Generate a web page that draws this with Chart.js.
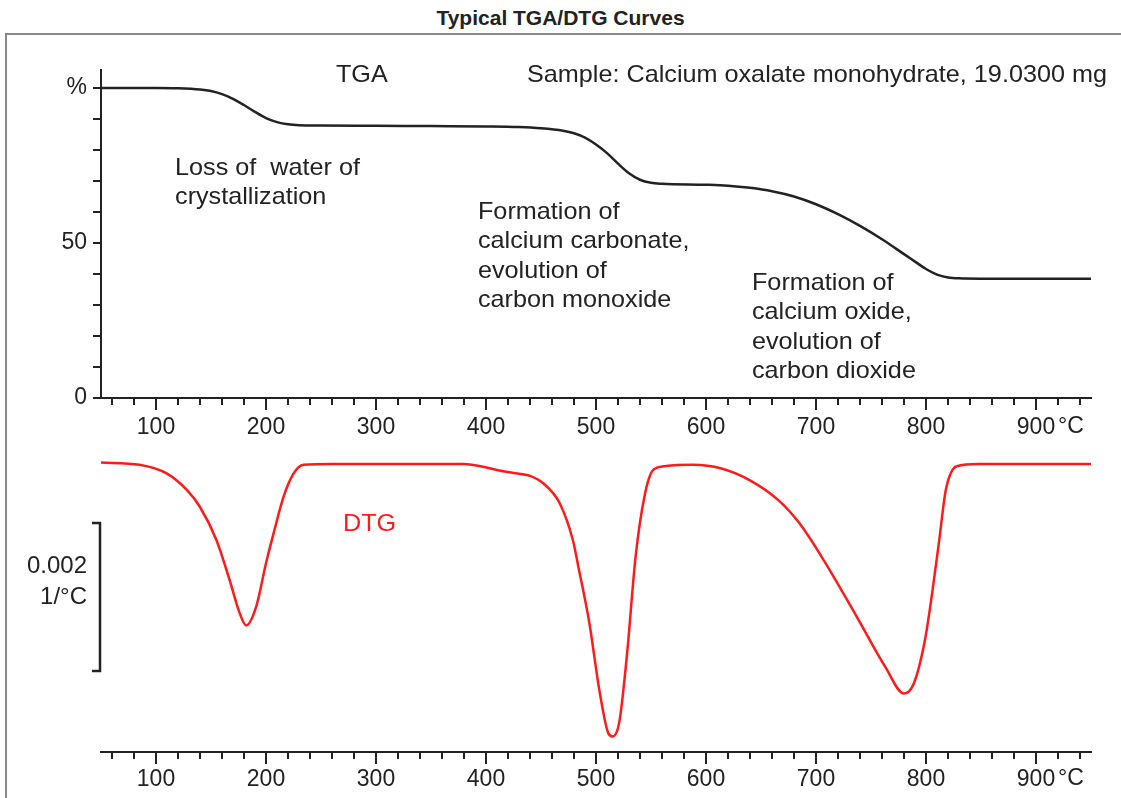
<!DOCTYPE html>
<html>
<head>
<meta charset="utf-8">
<title>Typical TGA/DTG Curves</title>
<script src="https://cdn.jsdelivr.net/npm/chart.js@4.4.1/dist/chart.umd.min.js"></script>
<style>
  html, body { margin: 0; overflow: hidden; }
  body { background: #fff; width: 1121px; height: 798px; position: relative;
         font-family: "Liberation Sans", Arial, sans-serif; }
  #title { position: absolute; top: 6px; left: 0; width: 1121px; text-align: center;
           font-size: 21px; font-weight: bold; color: #222; }
  #frame { position: absolute; left: 5px; top: 33px; width: 1114px; height: 763px;
           border-top: 2px solid #8a8a8a; border-left: 2px solid #8a8a8a; }
  #tga { position: absolute; left: 0; top: 0; }
  #dtg { position: absolute; left: 0; top: 440px; }
</style>
</head>
<body>
<div id="title">Typical TGA/DTG Curves</div>
<div id="frame"></div>
<canvas id="tga" width="1121" height="440"></canvas>
<canvas id="dtg" width="1121" height="358"></canvas>
<script>
// TGA curve, mass in % vs temperature in °C
const tgaTemps = [50, 80, 100, 120, 140, 150, 160, 170, 180, 190, 200, 210, 220, 230, 250, 300, 350, 400,
                  430, 450, 470, 480, 490, 500, 510, 520, 530, 540, 550, 560, 600, 620, 640, 660, 680,
                  700, 720, 740, 760, 780, 790, 800, 810, 820, 830, 850, 900, 950];
const tgaMass = [100, 100, 100, 99.9, 99.5, 99, 98, 96.5, 94.5, 92.3, 90.3, 89, 88.3, 88.0, 87.9, 87.8, 87.7, 87.6,
                 87.4, 87.0, 86.2, 85.4, 84, 81.8, 79, 75.6, 72.5, 70.4, 69.4, 69.1, 68.8, 68.5, 67.8, 66.7, 65,
                 62.5, 59.3, 55.5, 51.2, 46.4, 44, 41.6, 39.8, 38.9, 38.6, 38.5, 38.5, 38.5];

// DTG curve, 1/°C vs temperature in °C
const dtgTemps = [50, 85, 110, 128, 140, 155, 167, 176, 182, 191, 200, 207, 216, 225, 234, 260, 380,
                  395, 410, 425, 440, 452, 467, 479, 484, 494, 503, 511, 515, 521, 528, 536, 544, 552, 562, 588,
                  614, 640, 666, 685, 705, 737, 763, 780, 789, 799, 806, 812, 818, 828, 848, 950];
const dtgRate = [0.00002, -0.00001, -0.00013, -0.00035, -0.00058, -0.00103, -0.00157, -0.00201, -0.00218,
                 -0.00193, -0.00134, -0.00093, -0.00044, -0.00013, -0.00001, 0, 0,
                 -0.00003, -0.00008, -0.00012, -0.00016, -0.00026, -0.00053, -0.00103, -0.00139, -0.00215,
                 -0.00305, -0.00363, -0.00368, -0.0035, -0.0026, -0.00125, -0.00044, -0.00008, -0.00003, -0.00001,
                 -0.00006, -0.00022, -0.00049, -0.0008, -0.00125, -0.00206, -0.00274, -0.0031, -0.00296,
                 -0.00238, -0.0017, -0.00103, -0.00035, -0.00003, 0, 0];

// axes
const tempTicks = [];
for (let t = 60; t <= 940; t += 20) tempTicks.push(t);
const massTicks = [0, 10, 20, 30, 40, 50, 60, 70, 80, 90, 100];
const massLabelValues = [0, 50, 100];
const massLabels = ['0', '50', '%'];
const scaleBarTop = -0.0008;
const scaleBarSize = 0.002;
const scaleBarLabels = ['0.002', '1/°C'];

const tgaNotes = [
    { t: 263.6, v: 104.2, lines: ['TGA'] },
    { t: 437.3, v: 104.2, lines: ['Sample: Calcium oxalate monohydrate, 19.0300 mg'] },
    { t: 117.3, v: 74.2, lines: ['Loss of  water of', 'crystallization'] },
    { t: 392.7, v: 60.0, lines: ['Formation of', 'calcium carbonate,', 'evolution of', 'carbon monoxide'] },
    { t: 641.8, v: 37.1, lines: ['Formation of', 'calcium oxide,', 'evolution of', 'carbon dioxide'] }
];
const dtgNotes = [
    { t: 270, v: -0.00082, lines: ['DTG'], color: '#ff1a1a' }
];

const INK = '#222';
const FONT = '"Liberation Sans", Arial, sans-serif';
Chart.defaults.font.family = FONT;
Chart.defaults.color = INK;

function points(xs, ys) {
    return xs.map((x, i) => ({ x: x, y: ys[i] }));
}

// tick marks drawn by hand: long at every 100 °C, short every 20 °C
const tickMarks = {
    id: 'tickMarks',
    afterDraw(chart) {
        const ctx = chart.ctx;
        const xs = chart.scales.x, ys = chart.scales.y;
        ctx.save();
        ctx.strokeStyle = INK;
        ctx.lineWidth = 2;
        ctx.beginPath();
        xs.ticks.forEach(tk => {
            const px = Math.round(xs.getPixelForValue(tk.value));
            const len = tk.value % 100 === 0 ? 12 : 7;
            ctx.moveTo(px, xs.top);
            ctx.lineTo(px, xs.top + len);
        });
        if (ys.options.display) {
            ys.ticks.forEach(tk => {
                const py = Math.round(ys.getPixelForValue(tk.value));
                ctx.moveTo(ys.right - 8, py);
                ctx.lineTo(ys.right, py);
            });
        }
        ctx.stroke();
        // unit after the 900 label
        ctx.fillStyle = INK;
        ctx.font = '23px ' + FONT;
        ctx.textAlign = 'left';
        ctx.textBaseline = 'middle';
        ctx.fillText('°C', xs.getPixelForValue(920), xs.top + chart.options.unitOffset);
        ctx.restore();
    }
};

// text notes, a little wider than the plain font like the original
const notes = {
    id: 'notes',
    afterDatasetsDraw(chart, args, opts) {
        const ctx = chart.ctx;
        const xs = chart.scales.x, ys = chart.scales.y;
        ctx.save();
        ctx.font = '24px ' + FONT;
        ctx.textAlign = 'left';
        ctx.textBaseline = 'middle';
        opts.items.forEach(n => {
            ctx.fillStyle = n.color || INK;
            const x = xs.getPixelForValue(n.t);
            const y = ys.getPixelForValue(n.v);
            n.lines.forEach((line, i) => {
                ctx.save();
                ctx.translate(x, y + i * 29.5);
                ctx.scale(1.05, 1);
                ctx.fillText(line, 0, 0);
                ctx.restore();
            });
        });
        ctx.restore();
    }
};

// bracket showing 0.002 1/°C on the DTG plot
const scaleBar = {
    id: 'scaleBar',
    afterDraw(chart) {
        const ctx = chart.ctx;
        const ys = chart.scales.y;
        const x = chart.chartArea.left - 1;
        const y1 = Math.round(ys.getPixelForValue(scaleBarTop));
        const y2 = Math.round(ys.getPixelForValue(scaleBarTop - scaleBarSize));
        ctx.save();
        ctx.strokeStyle = INK;
        ctx.lineWidth = 2.5;
        ctx.beginPath();
        ctx.moveTo(x - 8, y1);
        ctx.lineTo(x, y1);
        ctx.lineTo(x, y2);
        ctx.lineTo(x - 8, y2);
        ctx.stroke();
        ctx.fillStyle = INK;
        ctx.font = '24px ' + FONT;
        ctx.textAlign = 'right';
        ctx.textBaseline = 'middle';
        const mid = (y1 + y2) / 2;
        ctx.fillText(scaleBarLabels[0], x - 13, mid - 31);
        ctx.fillText(scaleBarLabels[1], x - 13, mid);
        ctx.restore();
    }
};

function tempAxis(height, pad) {
    return {
        type: 'linear',
        min: 50,
        max: 950,
        afterBuildTicks: scale => { scale.ticks = tempTicks.map(v => ({ value: v })); },
        afterFit: scale => { scale.height = height; },
        grid: { display: false, drawTicks: false },
        border: { display: true, color: INK, width: 2 },
        ticks: {
            autoSkip: false,
            maxRotation: 0,
            padding: pad,
            font: { size: 23 },
            color: INK,
            callback: v => (v % 100 === 0 ? String(v) : '')
        }
    };
}

new Chart(document.getElementById('tga'), {
    type: 'line',
    data: {
        datasets: [{
            label: 'TGA',
            data: points(tgaTemps, tgaMass),
            borderColor: INK,
            borderWidth: 2.5,
            pointRadius: 0,
            cubicInterpolationMode: 'monotone'
        }]
    },
    options: {
        responsive: false,
        animation: false,
        events: [],
        unitOffset: 29,
        layout: { padding: { top: 70, right: 30, bottom: 0, left: 0 } },
        scales: {
            x: tempAxis(42, 16),
            y: {
                min: 0,
                max: 105.8,
                afterBuildTicks: scale => { scale.ticks = massTicks.map(v => ({ value: v })); },
                afterFit: scale => { scale.width = 101; },
                grid: { display: false, drawTicks: false },
                border: { display: true, color: INK, width: 2 },
                ticks: {
                    autoSkip: false,
                    padding: 14,
                    font: { size: 23 },
                    color: INK,
                    callback: v => {
                        const i = massLabelValues.indexOf(v);
                        return i >= 0 ? massLabels[i] : '';
                    }
                }
            }
        },
        plugins: {
            legend: { display: false },
            tooltip: { enabled: false },
            notes: { items: tgaNotes }
        }
    },
    plugins: [tickMarks, notes]
});

new Chart(document.getElementById('dtg'), {
    type: 'line',
    data: {
        datasets: [{
            label: 'DTG',
            data: points(dtgTemps, dtgRate),
            borderColor: '#ff1a1a',
            borderWidth: 2.5,
            pointRadius: 0,
            cubicInterpolationMode: 'monotone'
        }]
    },
    options: {
        responsive: false,
        animation: false,
        events: [],
        unitOffset: 27,
        layout: { padding: { top: 10, right: 30, bottom: 0, left: 101 } },
        scales: {
            x: tempAxis(46, 14),
            y: { display: false, min: -0.00389, max: 0.00019 }
        },
        plugins: {
            legend: { display: false },
            tooltip: { enabled: false },
            notes: { items: dtgNotes }
        }
    },
    plugins: [tickMarks, notes, scaleBar]
});
</script>
</body>
</html>
